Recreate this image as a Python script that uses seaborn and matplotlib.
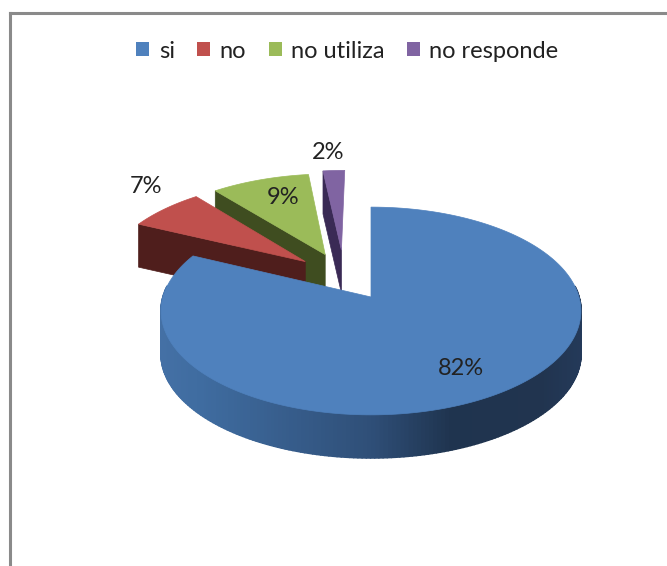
import numpy as np
import matplotlib
matplotlib.use("Agg")
import matplotlib.pyplot as plt
from matplotlib.collections import PolyCollection
from matplotlib.patches import Patch
from matplotlib.colors import to_rgb
import seaborn as sns

# ---- data ----
categories = ["si", "no", "no utiliza", "no responde"]
values = [82, 7, 9, 2]
top_colors = ["#4F81BD", "#C0504D", "#9BBB59", "#8064A2"]
wall_colors = ["#2F4F78", "#4F1E1C", "#3F4D20", "#3A2A55"]
explode = [0.25, 0.25, 0.25, 0.28]
label_positions = [(461, 368), (146, 186), (283, 197), (328, 152)]

# ---- projection of the tilted pie onto the page ----
CX, CY = 371, 297      # apex of the largest slice
RX, RY = 208, 102      # projected radii
PERSP = 0.1346         # perspective strength
DEPTH = 43             # extrusion height

grad_x = [162, 200, 370, 450, 540, 583]
grad_c = ["#4470A5", "#3F6CA0", "#2F4F78", "#1F344F", "#21344F", "#243A5A"]


def project(u, v):
    w = 1 + PERSP * v
    return CX + RX * u / w, CY - RY * v / w


sns.set_theme(style="white")
plt.rcParams["font.family"] = ["Lato", "DejaVu Sans"]
palette = sns.color_palette(top_colors)

fig = plt.figure(figsize=(6.67, 5.66), dpi=100, facecolor="white")
ax = fig.add_axes([10 / 667, 0, 657 / 667, (566 - 13) / 566])
ax.set_xlim(10, 667)
ax.set_ylim(566, 13)
ax.set_xticks([])
ax.set_yticks([])
for side in ("right", "bottom"):
    ax.spines[side].set_visible(False)
for side in ("top", "left"):
    ax.spines[side].set_color("#8A8A8A")
    ax.spines[side].set_linewidth(2.2)

fractions = np.array(values, dtype=float) / sum(values)
edges = np.concatenate([[0], np.cumsum(fractions)]) * 2 * np.pi
mids = (edges[:-1] + edges[1:]) / 2
ref_du = explode[0] * np.sin(mids[0])
ref_dv = explode[0] * np.cos(mids[0])

# painter's order: back slices first, the big slice last
for i in [3, 2, 1, 0]:
    du = explode[i] * np.sin(mids[i]) - ref_du
    dv = explode[i] * np.cos(mids[i]) - ref_dv
    n = max(4, int(np.degrees(edges[i + 1] - edges[i])))
    th = np.linspace(edges[i], edges[i + 1], n + 1)
    ax_, ay_ = project(du, dv)
    ox, oy = project(du + np.sin(th), dv + np.cos(th))

    # the one radial wall that faces the viewer
    if i > 0:
        wall = [(ax_, ay_), (ox[0], oy[0]), (ox[0], oy[0] + DEPTH), (ax_, ay_ + DEPTH)]
        ax.fill(*zip(*wall), color=wall_colors[i], lw=0.5, zorder=10 + (3 - i) * 2)

    # outer wall, only where the rim faces the viewer, shaded along the rim
    front = [j for j in range(n) if np.cos((th[j] + th[j + 1]) / 2) < 0.1]
    if front:
        quads = [[(ox[j], oy[j]), (ox[j + 1], oy[j + 1]),
                  (ox[j + 1], oy[j + 1] + DEPTH), (ox[j], oy[j] + DEPTH)] for j in front]
        rgb = np.array([to_rgb(c) for c in grad_c])
        mx = np.array([(ox[j] + ox[j + 1]) / 2 for j in front])
        cols = np.column_stack([np.interp(mx, grad_x, rgb[:, c]) for c in range(3)])
        ax.add_collection(PolyCollection(quads, facecolors=cols, edgecolors=cols,
                                         linewidths=1.3, zorder=10 + (3 - i) * 2))

    # top face
    ax.fill(np.r_[ax_, ox], np.r_[ay_, oy], color=palette[i], lw=0.5,
            zorder=11 + (3 - i) * 2)

for val, (x, y) in zip(values, label_positions):
    ax.text(x, y, f"{val}%", ha="center", va="center", fontsize=17,
            color="#222222", zorder=30)

handles = [Patch(facecolor=c, edgecolor="none", label=l)
           for c, l in zip(palette, categories)]
leg = ax.legend(handles=handles, ncol=4, frameon=False, loc="center",
                fontsize=17, handlelength=0.55, handleheight=0.55, handletextpad=0.4,
                columnspacing=0.95, labelcolor="#222222")
leg.set_bbox_to_anchor((347.5, 51), transform=ax.transData)

fig.savefig("out.png", dpi=100, facecolor="white")
